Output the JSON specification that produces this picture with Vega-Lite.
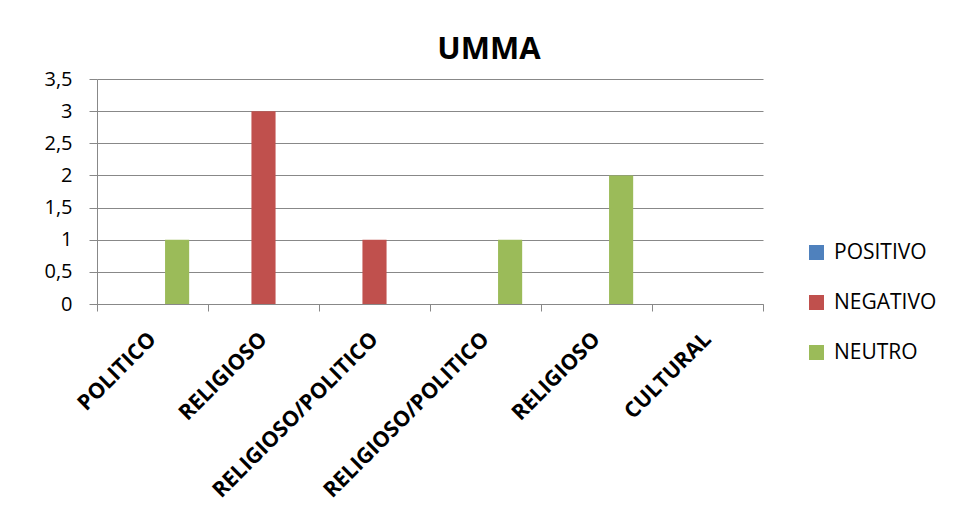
{
  "$schema": "https://vega.github.io/schema/vega-lite/v6.json",
  "width": 666,
  "height": 225,
  "autosize": {"type": "none"},
  "padding": {"left": 97, "top": 79, "right": 194, "bottom": 222},
  "background": "white",
  "title": {
    "text": "UMMA",
    "font": "Open Sans",
    "fontSize": 31,
    "fontWeight": "bold",
    "color": "#000000",
    "anchor": "middle",
    "frame": "group",
    "dx": 59,
    "baseline": "alphabetic",
    "offset": -21
  },
  "data": {
    "values": [
      {"idx": 0, "serie": "POSITIVO", "valor": 0},
      {"idx": 0, "serie": "NEGATIVO", "valor": 0},
      {"idx": 0, "serie": "NEUTRO", "valor": 1},
      {"idx": 1, "serie": "POSITIVO", "valor": 0},
      {"idx": 1, "serie": "NEGATIVO", "valor": 3},
      {"idx": 1, "serie": "NEUTRO", "valor": 0},
      {"idx": 2, "serie": "POSITIVO", "valor": 0},
      {"idx": 2, "serie": "NEGATIVO", "valor": 1},
      {"idx": 2, "serie": "NEUTRO", "valor": 0},
      {"idx": 3, "serie": "POSITIVO", "valor": 0},
      {"idx": 3, "serie": "NEGATIVO", "valor": 0},
      {"idx": 3, "serie": "NEUTRO", "valor": 1},
      {"idx": 4, "serie": "POSITIVO", "valor": 0},
      {"idx": 4, "serie": "NEGATIVO", "valor": 0},
      {"idx": 4, "serie": "NEUTRO", "valor": 2},
      {"idx": 5, "serie": "POSITIVO", "valor": 0},
      {"idx": 5, "serie": "NEGATIVO", "valor": 0},
      {"idx": 5, "serie": "NEUTRO", "valor": 0}
    ]
  },
  "mark": {"type": "bar"},
  "encoding": {
    "x": {
      "field": "idx",
      "type": "nominal",
      "scale": {"paddingInner": 0, "paddingOuter": 0},
      "axis": {
        "title": null,
        "tickBand": "extent",
        "tickSize": 7,
        "tickColor": "#888888",
        "domainColor": "#888888",
        "labelAngle": -45,
        "labelAlign": "right",
        "labelBaseline": "middle",
        "labelFont": "Open Sans",
        "labelFontSize": 21.5,
        "labelFontWeight": "bold",
        "labelColor": "#000000",
        "labelPadding": 25,
        "labelLimit": 400,
        "labelExpr": "['POLITICO','RELIGIOSO','RELIGIOSO/POLITICO','RELIGIOSO/POLITICO','RELIGIOSO','CULTURAL'][datum.value]"
      }
    },
    "xOffset": {
      "field": "serie",
      "type": "nominal",
      "scale": {"domain": ["POSITIVO", "NEGATIVO", "NEUTRO"], "paddingInner": 0.02, "paddingOuter": 0.765}
    },
    "y": {
      "field": "valor",
      "type": "quantitative",
      "scale": {"domain": [0, 3.5], "nice": false},
      "axis": {
        "title": null,
        "values": [0, 0.5, 1, 1.5, 2, 2.5, 3, 3.5],
        "format": "~g",
        "labelExpr": "replace(datum.label, '.', ',')",
        "grid": true,
        "gridColor": "#888888",
        "domainColor": "#888888",
        "tickColor": "#888888",
        "tickSize": 8,
        "labelPadding": 17,
        "labelFont": "Open Sans",
        "labelFontSize": 20,
        "labelColor": "#000000"
      }
    },
    "color": {
      "field": "serie",
      "type": "nominal",
      "scale": {"domain": ["POSITIVO", "NEGATIVO", "NEUTRO"], "range": ["#4F81BD", "#C0504D", "#9BBB59"]},
      "legend": {
        "title": null,
        "orient": "none",
        "legendX": 709,
        "legendY": 163,
        "padding": 0,
        "symbolType": "square",
        "symbolSize": 225,
        "symbolStrokeWidth": 0,
        "labelFont": "Open Sans",
        "labelFontSize": 21,
        "labelColor": "#000000",
        "labelOffset": 7,
        "rowPadding": 28
      }
    }
  },
  "config": {"view": {"stroke": null}}
}
